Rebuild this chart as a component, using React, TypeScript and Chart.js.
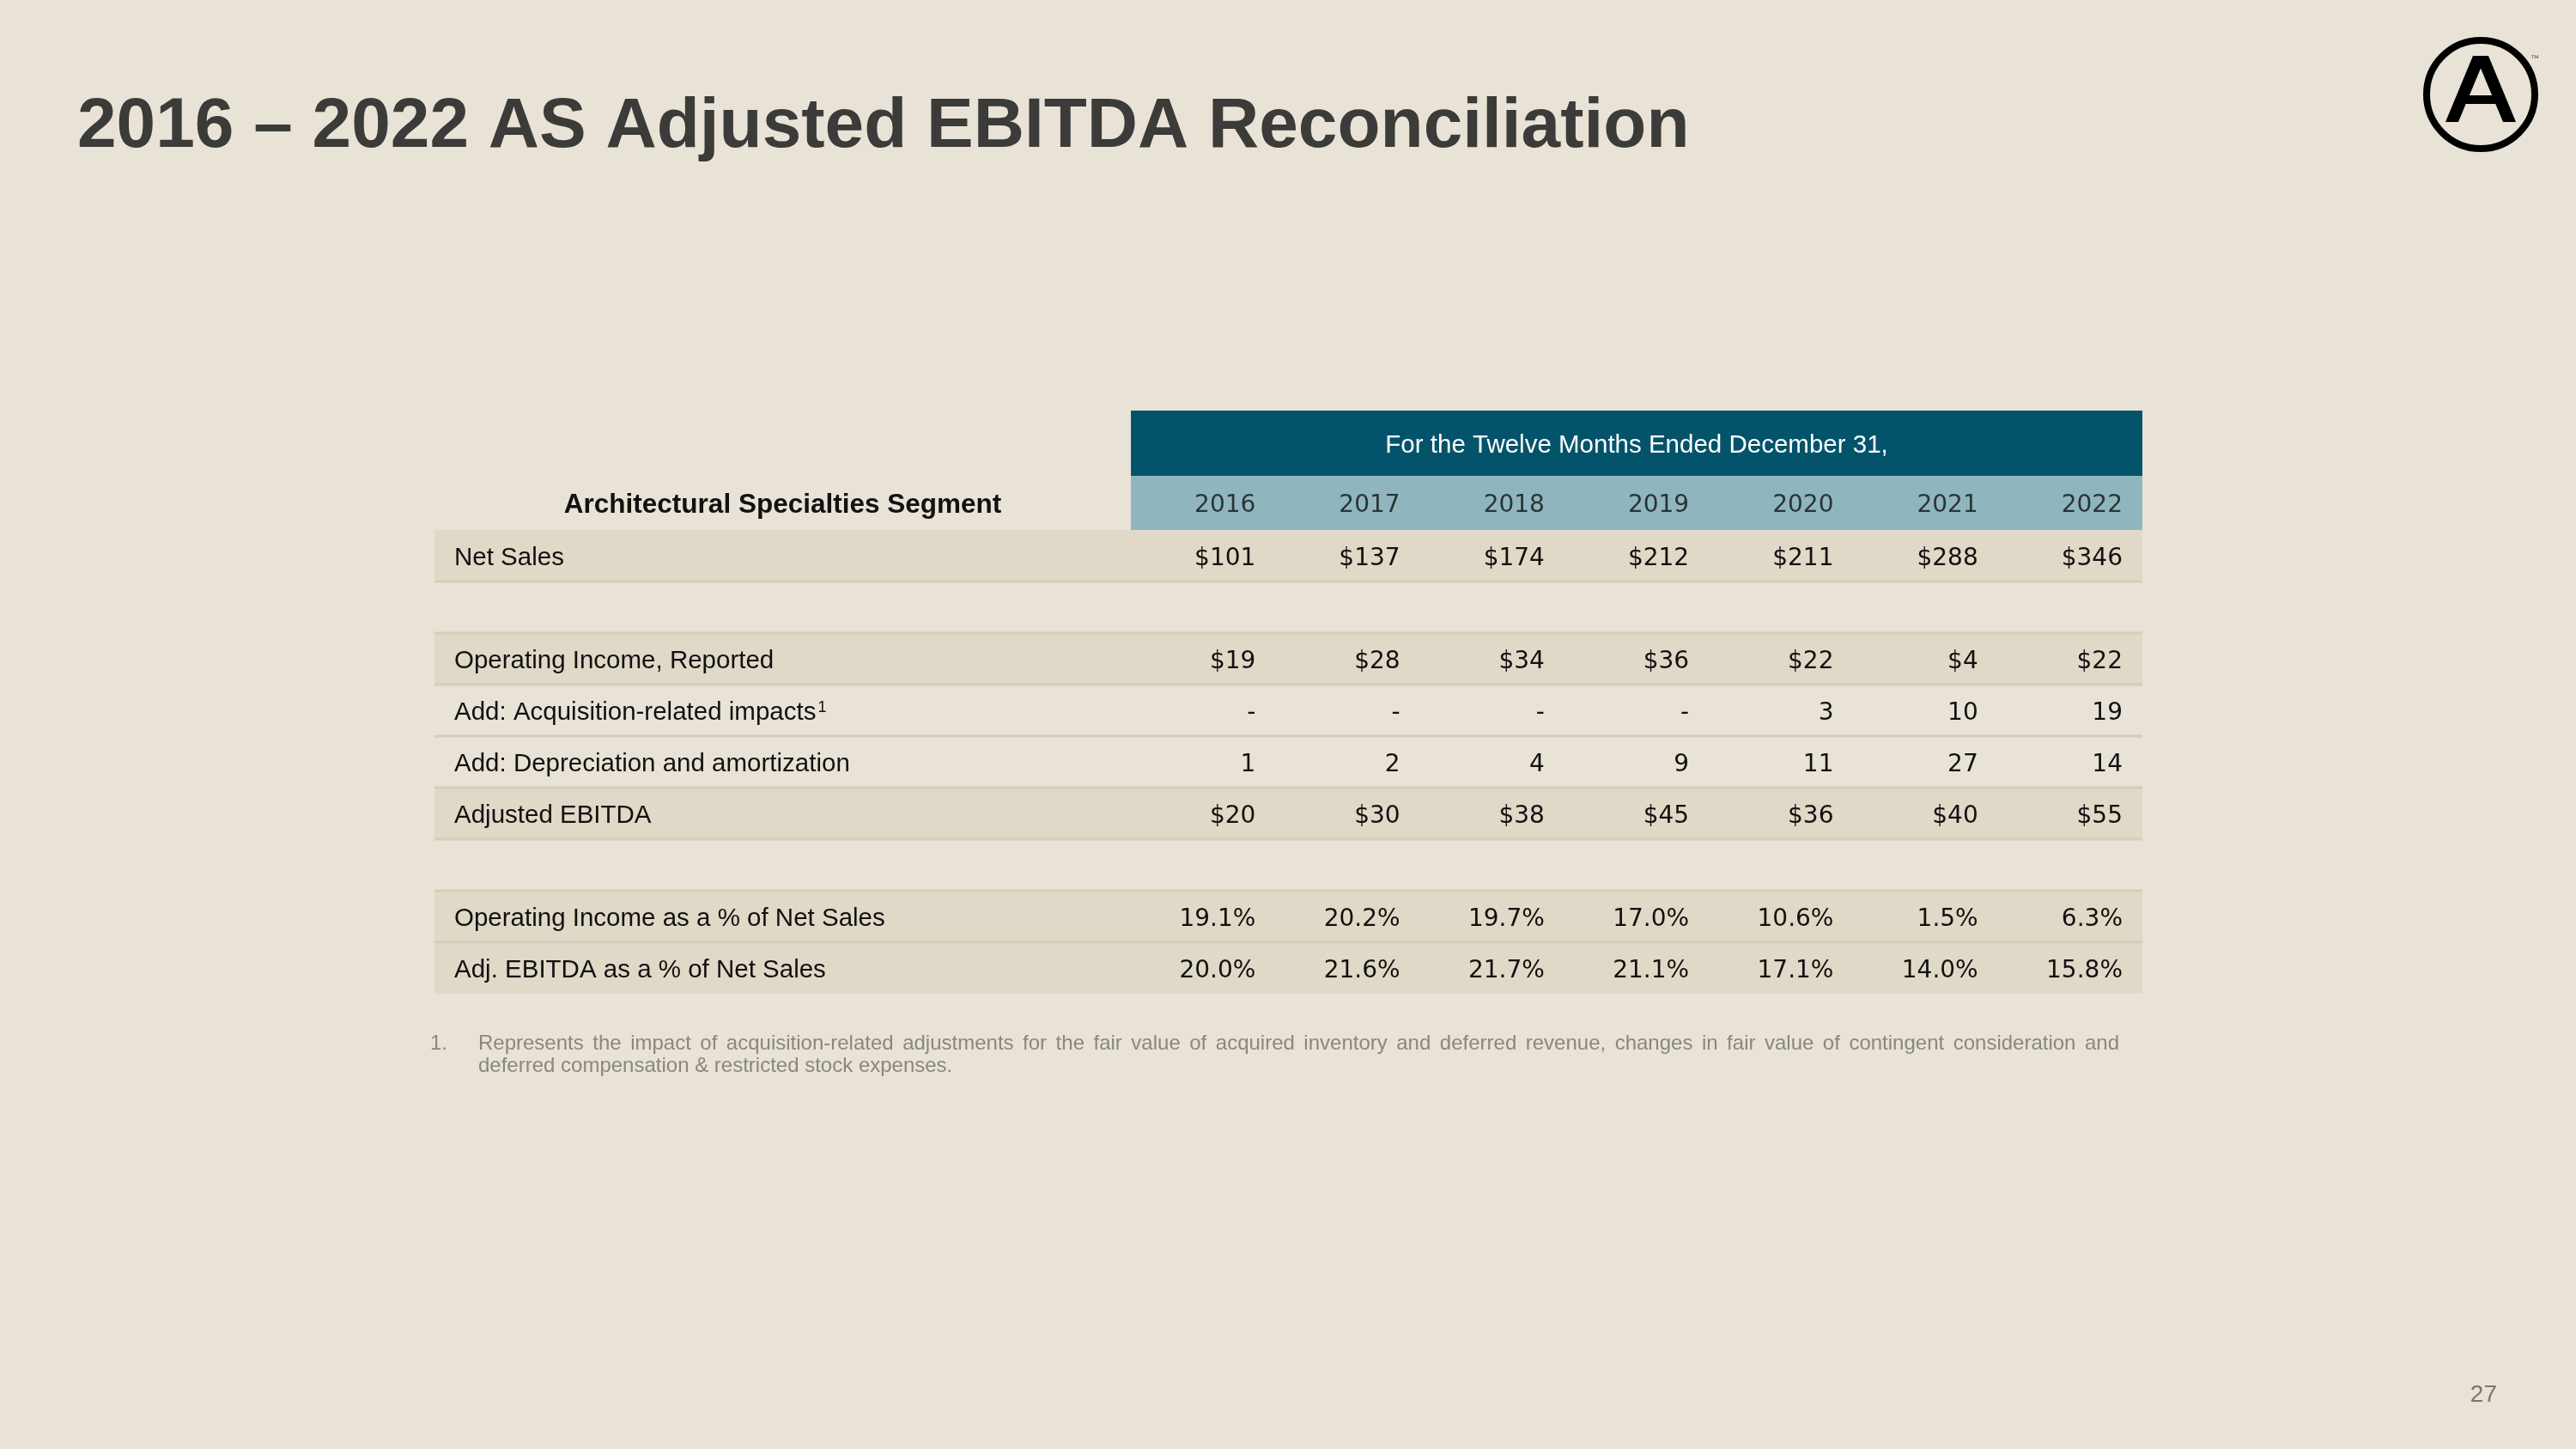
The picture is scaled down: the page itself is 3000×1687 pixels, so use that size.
import React, { useEffect, useRef } from 'react';
import { Chart, registerables } from 'chart.js';

Chart.register(...registerables);

// ---------- data ----------
const TITLE = '2016 – 2022 AS Adjusted EBITDA Reconciliation';
const PERIOD_HEADER = 'For the Twelve Months Ended December 31,';
const SEGMENT_HEADER = 'Architectural Specialties Segment';
const YEARS = ['2016', '2017', '2018', '2019', '2020', '2021', '2022'];
const ROW_LABELS = [
  'Net Sales',
  '',
  'Operating Income, Reported',
  'Add: Acquisition-related impacts',
  'Add: Depreciation and amortization',
  'Adjusted EBITDA',
  '',
  'Operating Income as a % of Net Sales',
  'Adj. EBITDA as a % of Net Sales',
];
const NET_SALES = [101, 137, 174, 212, 211, 288, 346];
const OPERATING_INCOME = [19, 28, 34, 36, 22, 4, 22];
const ACQUISITION_IMPACTS: (number | null)[] = [null, null, null, null, 3, 10, 19];
const DEPRECIATION = [1, 2, 4, 9, 11, 27, 14];
const ADJUSTED_EBITDA = [20, 30, 38, 45, 36, 40, 55];
const OP_INCOME_PCT = [19.1, 20.2, 19.7, 17.0, 10.6, 1.5, 6.3];
const ADJ_EBITDA_PCT = [20.0, 21.6, 21.7, 21.1, 17.1, 14.0, 15.8];
const FOOTNOTE_MARK = '1.';
const FOOTNOTE_LINES = [
  'Represents the impact of acquisition-related adjustments for the fair value of acquired inventory and deferred revenue, changes in fair value of contingent consideration and',
  'deferred compensation & restricted stock expenses.',
];
const PAGE_NUMBER = '27';

// ---------- styles / layout ----------
const BG = '#e8e3d6';
const SHADE = '#e0d9c7';
const SEP = '#d6cdb9';
const DARK = '#03546a';
const LIGHT_HDR = '#8fb6bf';
const TEXT = '#111111';
const TITLE_COLOR = '#3b3b39';
const LABEL_FONT = '"Liberation Sans", Arial, sans-serif';
const NUM_FONT = '"DejaVu Sans", sans-serif';
const LABEL_UNITS = 4.82;
const HEADER_UNITS = 2.317;
const YEAR_UNITS = 1.05;
const PAD = 23;

type Fmt = 'dollar' | 'plain' | 'pct' | 'none';
const fmtVal = (v: number | null, f: Fmt) => {
  if (f === 'none') return '';
  if (v === null) return '-';
  if (f === 'dollar') return '$' + v;
  if (f === 'pct') return v.toFixed(1) + '%';
  return String(v);
};

const ROWS: { label: string; values: (number | null)[]; fmt: Fmt; shaded: boolean; note?: string }[] = [
  { label: ROW_LABELS[0], values: NET_SALES, fmt: 'dollar', shaded: true },
  { label: ROW_LABELS[1], values: [], fmt: 'none', shaded: false },
  { label: ROW_LABELS[2], values: OPERATING_INCOME, fmt: 'dollar', shaded: true },
  { label: ROW_LABELS[3], values: ACQUISITION_IMPACTS, fmt: 'plain', shaded: false, note: '1' },
  { label: ROW_LABELS[4], values: DEPRECIATION, fmt: 'plain', shaded: false },
  { label: ROW_LABELS[5], values: ADJUSTED_EBITDA, fmt: 'dollar', shaded: true },
  { label: ROW_LABELS[6], values: [], fmt: 'none', shaded: false },
  { label: ROW_LABELS[7], values: OP_INCOME_PCT, fmt: 'pct', shaded: true },
  { label: ROW_LABELS[8], values: ADJ_EBITDA_PCT, fmt: 'pct', shaded: true },
];

function drawLogo(ctx: CanvasRenderingContext2D) {
  ctx.strokeStyle = '#000';
  ctx.lineWidth = 8;
  ctx.beginPath();
  ctx.arc(2889, 110, 63, 0, Math.PI * 2);
  ctx.stroke();
  ctx.fillStyle = '#000';
  ctx.beginPath();
  ctx.moveTo(2848, 142);
  ctx.lineTo(2880, 65);
  ctx.lineTo(2898, 65);
  ctx.lineTo(2930, 142);
  ctx.lineTo(2915, 142);
  ctx.lineTo(2906.3, 121);
  ctx.lineTo(2871.7, 121);
  ctx.lineTo(2863, 142);
  ctx.closePath();
  ctx.moveTo(2875.9, 111);
  ctx.lineTo(2902.1, 111);
  ctx.lineTo(2889, 79.5);
  ctx.closePath();
  ctx.fill('evenodd');
  ctx.font = `10px ${LABEL_FONT}`;
  ctx.fillStyle = '#555';
  ctx.textAlign = 'center';
  ctx.fillText('™', 2952, 71);
}

const tablePlugin = {
  id: 'tablePlugin',
  beforeDraw(chart: any) {
    const ctx = chart.ctx as CanvasRenderingContext2D;
    ctx.save();
    ctx.fillStyle = BG;
    ctx.fillRect(0, 0, chart.width, chart.height);
    ctx.restore();
  },
  afterDraw(chart: any) {
    const ctx = chart.ctx as CanvasRenderingContext2D;
    const xs = chart.scales.x;
    const ys = chart.scales.y;
    const left = xs.getPixelForValue(-LABEL_UNITS);
    const right = xs.getPixelForValue(YEARS.length);
    const col0 = xs.getPixelForValue(0);
    ctx.save();

    // Title
    ctx.fillStyle = TITLE_COLOR;
    ctx.font = `bold 82px ${LABEL_FONT}`;
    ctx.textAlign = 'left';
    ctx.textBaseline = 'alphabetic';
    ctx.fillText(TITLE, 90, 171);

    drawLogo(ctx);

    // Header rows
    const yTop = ys.getPixelForValue(-HEADER_UNITS);
    const yMid = ys.getPixelForValue(-YEAR_UNITS);
    const y0 = ys.getPixelForValue(0);
    ctx.fillStyle = DARK;
    ctx.fillRect(col0, yTop, right - col0, yMid - yTop);
    ctx.fillStyle = LIGHT_HDR;
    ctx.fillRect(col0, yMid, right - col0, y0 - yMid);

    ctx.fillStyle = '#ffffff';
    ctx.font = `29.5px ${LABEL_FONT}`;
    ctx.textAlign = 'center';
    ctx.fillText(PERIOD_HEADER, (col0 + right) / 2, (yTop + yMid) / 2 + 10.5);

    ctx.fillStyle = TEXT;
    ctx.font = `bold 31.5px ${LABEL_FONT}`;
    ctx.fillText(SEGMENT_HEADER, (left + col0) / 2, (yMid + y0) / 2 + 11);

    ctx.fillStyle = '#2b3336';
    ctx.font = `28px ${NUM_FONT}`;
    ctx.textAlign = 'right';
    YEARS.forEach((yr, i) => {
      ctx.fillText(yr, xs.getPixelForValue(i + 1) - PAD, (yMid + y0) / 2 + 10.5);
    });

    // Body rows
    ROWS.forEach((row, r) => {
      const t = ys.getPixelForValue(r);
      const b = ys.getPixelForValue(r + 1);
      if (row.shaded) {
        ctx.fillStyle = SHADE;
        ctx.fillRect(left, t, right - left, b - t);
      }
    });
    ctx.fillStyle = SEP;
    for (let r = 0; r < ROWS.length - 1; r++) {
      if (ROWS[r].fmt === 'none' && ROWS[r + 1].fmt === 'none') continue;
      const yb = ys.getPixelForValue(r + 1);
      ctx.fillRect(left, yb - 1.5, right - left, 3);
    }
    ROWS.forEach((row, r) => {
      if (row.fmt === 'none') return;
      const t = ys.getPixelForValue(r);
      const b = ys.getPixelForValue(r + 1);
      const base = (t + b) / 2 + 10.5;
      ctx.fillStyle = TEXT;
      ctx.textAlign = 'left';
      ctx.font = `29.5px ${LABEL_FONT}`;
      ctx.fillText(row.label, left + PAD, base);
      if (row.note) {
        const w = ctx.measureText(row.label).width;
        ctx.font = `18px ${LABEL_FONT}`;
        ctx.fillText(row.note, left + PAD + w + 2, base - 9);
      }
      ctx.textAlign = 'right';
      ctx.font = `28px ${NUM_FONT}`;
      row.values.forEach((v, i) => {
        ctx.fillText(fmtVal(v, row.fmt), xs.getPixelForValue(i + 1) - PAD, base);
      });
    });

    // Footnote
    const fnBase = ys.getPixelForValue(ROWS.length) + 65;
    ctx.fillStyle = '#8a877d';
    ctx.font = `24px ${LABEL_FONT}`;
    ctx.textAlign = 'left';
    ctx.fillText(FOOTNOTE_MARK, left - 5, fnBase);
    const fnLeft = left + 51;
    const fnRight = right - 27;
    const words = FOOTNOTE_LINES[0].split(' ');
    const widths = words.map((w) => ctx.measureText(w).width);
    const total = widths.reduce((a, c) => a + c, 0);
    const gap = (fnRight - fnLeft - total) / (words.length - 1);
    let x = fnLeft;
    words.forEach((w, i) => {
      ctx.fillText(w, x, fnBase);
      x += widths[i] + gap;
    });
    ctx.fillText(FOOTNOTE_LINES[1], fnLeft, fnBase + 26);

    // Page number
    ctx.fillStyle = '#77766e';
    ctx.font = `28px ${LABEL_FONT}`;
    ctx.textAlign = 'right';
    ctx.fillText(PAGE_NUMBER, 2908, 1632);

    ctx.restore();
  },
};

export default function App() {
  const ref = useRef<HTMLCanvasElement>(null);
  useEffect(() => {
    document.body.style.margin = '0';
    document.body.style.background = BG;
    const canvas = ref.current!;
    const chart = new Chart(canvas, {
      type: 'scatter',
      data: { datasets: [] },
      options: {
        responsive: false,
        animation: false,
        devicePixelRatio: 1,
        events: [],
        layout: { padding: { left: 506, right: 505, top: 478, bottom: 530 } },
        plugins: { legend: { display: false }, tooltip: { enabled: false }, title: { display: false } },
        scales: {
          x: { type: 'linear', min: -LABEL_UNITS, max: YEARS.length, display: false },
          y: { type: 'linear', min: -HEADER_UNITS, max: ROW_LABELS.length, reverse: true, display: false },
        },
      },
      plugins: [tablePlugin],
    } as any);
    return () => chart.destroy();
  }, []);
  return <canvas ref={ref} width={3000} height={1687} style={{ display: 'block', width: 3000, height: 1687 }} />;
}
